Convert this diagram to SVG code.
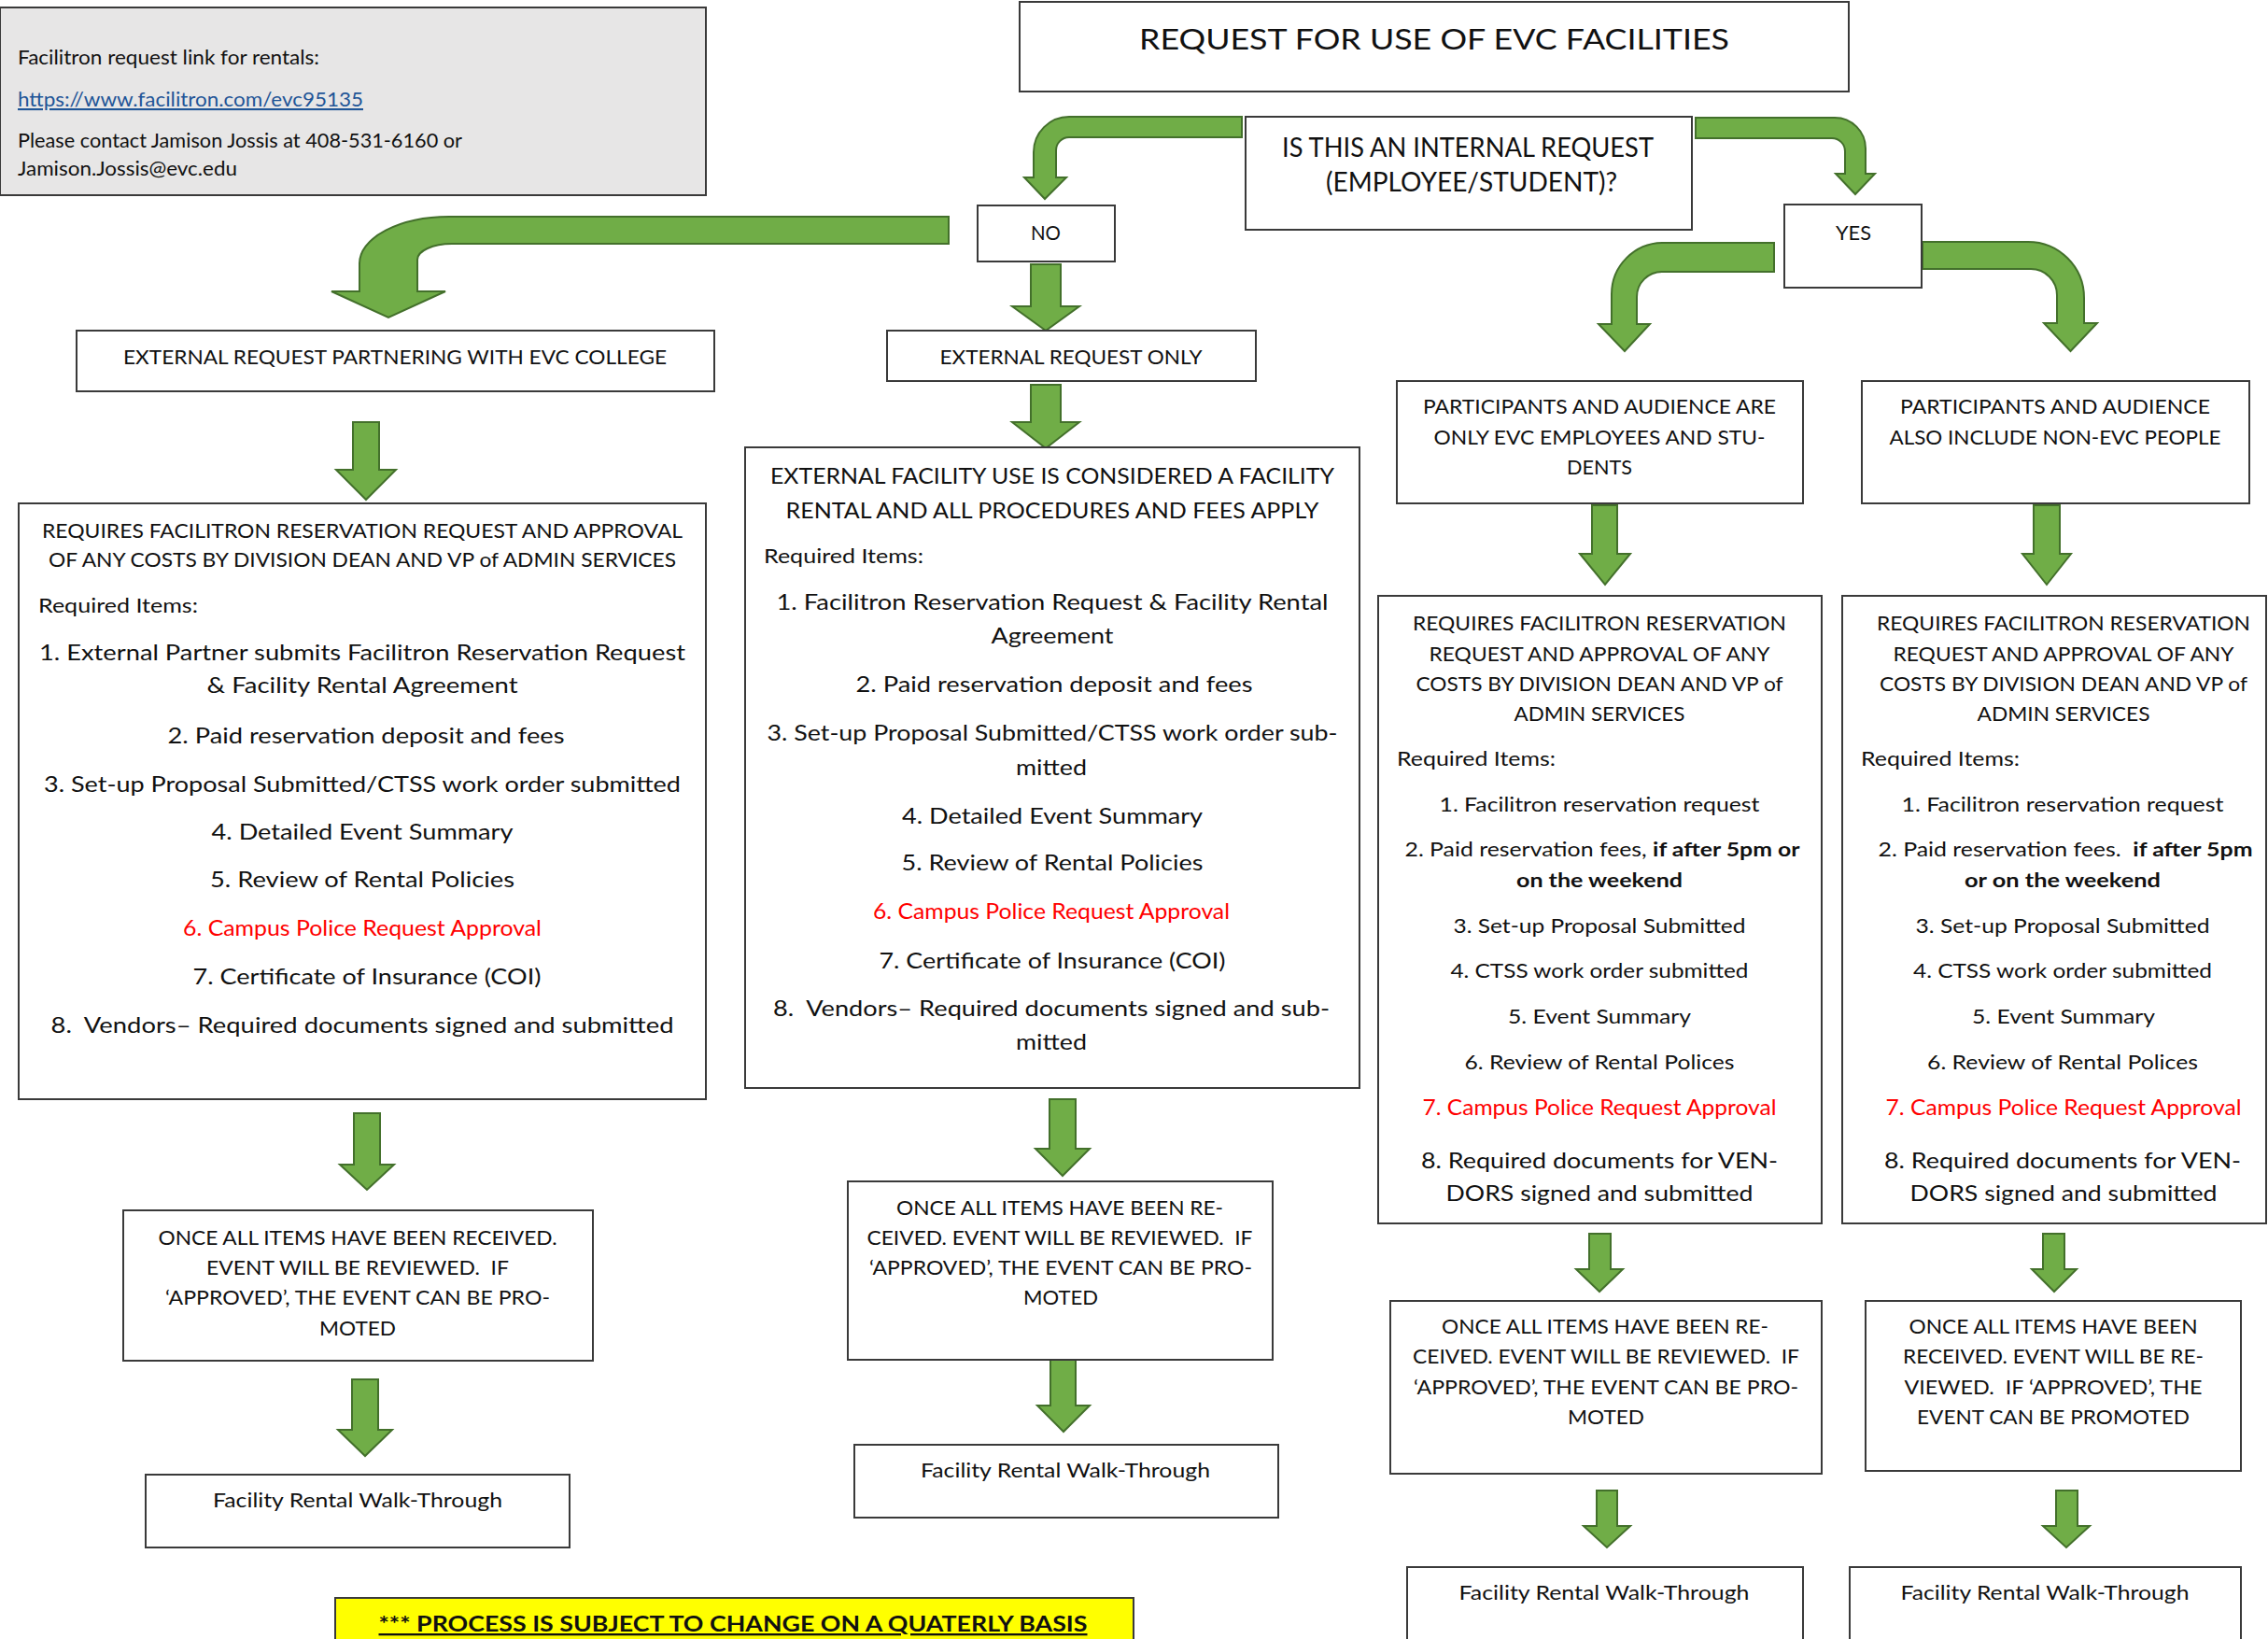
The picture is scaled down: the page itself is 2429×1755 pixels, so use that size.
<svg xmlns="http://www.w3.org/2000/svg" width="2429" height="1755" viewBox="0 0 2429 1755">
<style>
.box{fill:#fff;stroke:#3a3a3a;stroke-width:2}
.t{font-family:Lato,'Liberation Sans',sans-serif;fill:#111}
.c{text-anchor:middle}
.s20{font-size:21px}.s21{font-size:21px}.s22{font-size:22px}.s23{font-size:23px}.s24{font-size:24px}
.red{fill:#ff0000}
.b{font-weight:bold}
.arr{fill:#70ad47;stroke:#43702b;stroke-width:2;stroke-linejoin:miter}
</style>
<rect width="2429" height="1755" fill="#fff"/>

<g id="connectors">
<path class="arr" d="M1330 125 L1145 125 A38 38 0 0 0 1107 163 L1107 190 L1097 190 L1119 213 L1142 190 L1131 190 L1131 161 A14 14 0 0 1 1145 147 L1330 147 Z"/>
<path class="arr" d="M1816 126 L1965 126 A33 33 0 0 1 1998 159 L1998 186 L2008 186 L1987 208 L1966 186 L1976 186 L1976 162 A14 14 0 0 0 1962 148 L1816 148 Z"/>
<path class="arr" d="M1900 260 L1781 260 A55 55 0 0 0 1726 315 L1726 347 L1712 347 L1740 376 L1767 347 L1753 347 L1753 318 A27 27 0 0 1 1780 291 L1900 291 Z"/>
<path class="arr" d="M2059 259 L2172 259 A60 60 0 0 1 2232 319 L2232 346 L2246 346 L2217.5 376 L2189 346 L2203 346 L2203 316 A28 28 0 0 0 2175 288 L2059 288 Z"/>
<path class="arr" d="M1016 232 L481 232 A96 50 0 0 0 385 282 L385 312 L355 312 L416 340 L477 312 L447 312 L447 278 A37 17 0 0 1 484 261 L1016 261 Z"/>
<path class="arr" d="M1104 283 L1136 283 L1136 328 L1156 328 L1120 354 L1084 328 L1104 328 Z"/>
<path class="arr" d="M1104 412 L1136 412 L1136 452 L1156 452 L1120 480 L1084 452 L1104 452 Z"/>
<path class="arr" d="M378 452 L406 452 L406 503 L424 503 L392 535 L360 503 L378 503 Z"/>
<path class="arr" d="M379 1192 L407 1192 L407 1247 L422 1247 L393 1274 L364 1247 L379 1247 Z"/>
<path class="arr" d="M377 1477 L405 1477 L405 1531 L420 1531 L391 1559 L362 1531 L377 1531 Z"/>
<path class="arr" d="M1124 1177 L1152 1177 L1152 1230 L1167 1230 L1138 1259 L1109 1230 L1124 1230 Z"/>
<path class="arr" d="M1125 1455 L1152 1455 L1152 1505 L1167 1505 L1139 1533 L1111 1505 L1125 1505 Z"/>
<path class="arr" d="M1705 541 L1732 541 L1732 593 L1746 593 L1719 626 L1692 593 L1705 593 Z"/>
<path class="arr" d="M2178 541 L2206 541 L2206 593 L2218 593 L2192 626 L2166 593 L2178 593 Z"/>
<path class="arr" d="M1702 1321 L1725 1321 L1725 1359 L1738 1359 L1713 1383 L1688 1359 L1702 1359 Z"/>
<path class="arr" d="M2188 1321 L2211 1321 L2211 1359 L2224 1359 L2200 1383 L2176 1359 L2188 1359 Z"/>
<path class="arr" d="M1710 1596 L1732 1596 L1732 1634 L1746 1634 L1721 1657 L1696 1634 L1710 1634 Z"/>
<path class="arr" d="M2202 1596 L2225 1596 L2225 1634 L2238 1634 L2213 1657 L2188 1634 L2202 1634 Z"/>
</g>

<g id="info">
<rect x="0" y="8" width="756" height="201" fill="#e7e6e6" stroke="#3a3a3a" stroke-width="2"/>
<text class="t s21" x="19" y="69" textLength="323" lengthAdjust="spacingAndGlyphs">Facilitron request link for rentals:</text>
<text class="t s21" x="19" y="114" textLength="370" lengthAdjust="spacingAndGlyphs" style="fill:#1f5597" text-decoration="underline">https://www.facilitron.com/evc95135</text>
<text class="t s21" x="19" y="158" textLength="476" lengthAdjust="spacingAndGlyphs">Please contact Jamison Jossis at 408-531-6160 or</text>
<text class="t s21" x="19" y="188" textLength="235" lengthAdjust="spacingAndGlyphs">Jamison.Jossis@evc.edu</text>
</g>

<g id="title">
<rect class="box" x="1092" y="2" width="888" height="96"/>
<text class="t c" x="1536" y="53" font-size="30" textLength="632" lengthAdjust="spacingAndGlyphs">REQUEST FOR USE OF EVC FACILITIES</text>
</g>

<g id="question">
<rect class="box" x="1334" y="125" width="478" height="121"/>
<text class="t c" x="1572" y="168" font-size="29" textLength="398" lengthAdjust="spacingAndGlyphs">IS THIS AN INTERNAL REQUEST</text>
<text class="t c" x="1576" y="205" font-size="29" textLength="312" lengthAdjust="spacingAndGlyphs">(EMPLOYEE/STUDENT)?</text>
</g>

<g id="no">
<rect class="box" x="1047" y="220" width="147" height="60"/>
<text class="t c s21" x="1120" y="257" textLength="32" lengthAdjust="spacingAndGlyphs">NO</text>
</g>

<g id="yes">
<rect class="box" x="1911" y="219" width="147" height="89"/>
<text class="t c s21" x="1985" y="257" textLength="38" lengthAdjust="spacingAndGlyphs">YES</text>
</g>

<g id="partner">
<rect class="box" x="82" y="354" width="683" height="65"/>
<text class="t c s22" x="423" y="390" textLength="582" lengthAdjust="spacingAndGlyphs">EXTERNAL REQUEST PARTNERING WITH EVC COLLEGE</text>
</g>

<g id="external-only">
<rect class="box" x="950" y="354" width="395" height="54"/>
<text class="t c s22" x="1147" y="390" textLength="281" lengthAdjust="spacingAndGlyphs">EXTERNAL REQUEST ONLY</text>
</g>

<g id="participants-evc">
<rect class="box" x="1496" y="408" width="435" height="131"/>
<text class="t c s22" x="1713" y="443" textLength="378" lengthAdjust="spacingAndGlyphs">PARTICIPANTS AND AUDIENCE ARE</text>
<text class="t c s22" x="1713" y="476" textLength="355" lengthAdjust="spacingAndGlyphs">ONLY EVC EMPLOYEES AND STU-</text>
<text class="t c s22" x="1713" y="508" textLength="70" lengthAdjust="spacingAndGlyphs">DENTS</text>
</g>

<g id="participants-non-evc">
<rect class="box" x="1994" y="408" width="415" height="131"/>
<text class="t c s22" x="2201" y="443" textLength="332" lengthAdjust="spacingAndGlyphs">PARTICIPANTS AND AUDIENCE</text>
<text class="t c s22" x="2201" y="476" textLength="355" lengthAdjust="spacingAndGlyphs">ALSO INCLUDE NON-EVC PEOPLE</text>
</g>

<g id="partner-requirements">
<rect class="box" x="20" y="539" width="736" height="638"/>
<text class="t c s22" x="388" y="576" textLength="686" lengthAdjust="spacingAndGlyphs">REQUIRES FACILITRON RESERVATION REQUEST AND APPROVAL</text>
<text class="t c s22" x="388" y="607" textLength="672" lengthAdjust="spacingAndGlyphs">OF ANY COSTS BY DIVISION DEAN AND VP of ADMIN SERVICES</text>
<text class="t s22" x="41" y="656" textLength="171" lengthAdjust="spacingAndGlyphs">Required Items:</text>
<text class="t c s24" x="388" y="707" textLength="692" lengthAdjust="spacingAndGlyphs">1. External Partner submits Facilitron Reservation Request</text>
<text class="t c s24" x="388" y="742" textLength="333" lengthAdjust="spacingAndGlyphs">&amp; Facility Rental Agreement</text>
<text class="t c s24" x="392" y="796" textLength="425" lengthAdjust="spacingAndGlyphs">2. Paid reservation deposit and fees</text>
<text class="t c s24" x="388" y="848" textLength="682" lengthAdjust="spacingAndGlyphs">3. Set-up Proposal Submitted/CTSS work order submitted</text>
<text class="t c s24" x="388" y="899" textLength="323" lengthAdjust="spacingAndGlyphs">4. Detailed Event Summary</text>
<text class="t c s24" x="388" y="950" textLength="326" lengthAdjust="spacingAndGlyphs">5. Review of Rental Policies</text>
<text class="t c s24 red" x="388" y="1002" textLength="384" lengthAdjust="spacingAndGlyphs">6. Campus Police Request Approval</text>
<text class="t c s24" x="393" y="1054" textLength="373" lengthAdjust="spacingAndGlyphs">7. Certificate of Insurance (COI)</text>
<text class="t c s24" x="388" y="1106" textLength="667" lengthAdjust="spacingAndGlyphs" xml:space="preserve">8.  Vendors– Required documents signed and submitted</text>
</g>

<g id="external-requirements">
<rect class="box" x="798" y="479" width="658" height="686"/>
<text class="t c s23" x="1127" y="518" textLength="604" lengthAdjust="spacingAndGlyphs">EXTERNAL FACILITY USE IS CONSIDERED A FACILITY</text>
<text class="t c s23" x="1127" y="555" textLength="571" lengthAdjust="spacingAndGlyphs">RENTAL AND ALL PROCEDURES AND FEES APPLY</text>
<text class="t s22" x="818" y="603" textLength="171" lengthAdjust="spacingAndGlyphs">Required Items:</text>
<text class="t c s24" x="1127" y="653" textLength="591" lengthAdjust="spacingAndGlyphs">1. Facilitron Reservation Request &amp; Facility Rental</text>
<text class="t c s24" x="1127" y="689" textLength="131" lengthAdjust="spacingAndGlyphs">Agreement</text>
<text class="t c s24" x="1129" y="741" textLength="425" lengthAdjust="spacingAndGlyphs">2. Paid reservation deposit and fees</text>
<text class="t c s24" x="1127" y="793" textLength="611" lengthAdjust="spacingAndGlyphs">3. Set-up Proposal Submitted/CTSS work order sub-</text>
<text class="t c s24" x="1126" y="830" textLength="76" lengthAdjust="spacingAndGlyphs">mitted</text>
<text class="t c s24" x="1127" y="882" textLength="322" lengthAdjust="spacingAndGlyphs">4. Detailed Event Summary</text>
<text class="t c s24" x="1127" y="932" textLength="323" lengthAdjust="spacingAndGlyphs">5. Review of Rental Policies</text>
<text class="t c s24 red" x="1126" y="984" textLength="382" lengthAdjust="spacingAndGlyphs">6. Campus Police Request Approval</text>
<text class="t c s24" x="1127" y="1037" textLength="371" lengthAdjust="spacingAndGlyphs">7. Certificate of Insurance (COI)</text>
<text class="t c s24" x="1126" y="1088" textLength="596" lengthAdjust="spacingAndGlyphs" xml:space="preserve">8.  Vendors– Required documents signed and sub-</text>
<text class="t c s24" x="1126" y="1124" textLength="76" lengthAdjust="spacingAndGlyphs">mitted</text>
</g>

<g id="internal-requirements-evc">
<rect class="box" x="1476" y="638" width="475" height="672"/>
<text class="t c s22" x="1713" y="675" textLength="400" lengthAdjust="spacingAndGlyphs">REQUIRES FACILITRON RESERVATION</text>
<text class="t c s22" x="1713" y="708" textLength="365" lengthAdjust="spacingAndGlyphs">REQUEST AND APPROVAL OF ANY</text>
<text class="t c s22" x="1713" y="740" textLength="393" lengthAdjust="spacingAndGlyphs">COSTS BY DIVISION DEAN AND VP of</text>
<text class="t c s22" x="1713" y="772" textLength="183" lengthAdjust="spacingAndGlyphs">ADMIN SERVICES</text>
<text class="t s22" x="1496" y="820" textLength="170" lengthAdjust="spacingAndGlyphs">Required Items:</text>
<text class="t c s21" x="1713" y="869" textLength="343" lengthAdjust="spacingAndGlyphs">1. Facilitron reservation request</text>
<text class="t c s21" x="1716" y="917" textLength="423" lengthAdjust="spacingAndGlyphs" xml:space="preserve">2. Paid reservation fees, <tspan class="b">if after 5pm or</tspan></text>
<text class="t c s21 b" x="1713" y="950" textLength="178" lengthAdjust="spacingAndGlyphs">on the weekend</text>
<text class="t c s21" x="1713" y="999" textLength="313" lengthAdjust="spacingAndGlyphs">3. Set-up Proposal Submitted</text>
<text class="t c s21" x="1713" y="1047" textLength="319" lengthAdjust="spacingAndGlyphs">4. CTSS work order submitted</text>
<text class="t c s21" x="1713" y="1096" textLength="196" lengthAdjust="spacingAndGlyphs">5. Event Summary</text>
<text class="t c s21" x="1713" y="1145" textLength="289" lengthAdjust="spacingAndGlyphs">6. Review of Rental Polices</text>
<text class="t c s23 red" x="1713" y="1194" textLength="379" lengthAdjust="spacingAndGlyphs">7. Campus Police Request Approval</text>
<text class="t c s24" x="1713" y="1251" textLength="382" lengthAdjust="spacingAndGlyphs">8. Required documents for VEN-</text>
<text class="t c s24" x="1713" y="1286" textLength="329" lengthAdjust="spacingAndGlyphs">DORS signed and submitted</text>
</g>

<g id="internal-requirements-non-evc">
<rect class="box" x="1973" y="638" width="454" height="672"/>
<text class="t c s22" x="2210" y="675" textLength="400" lengthAdjust="spacingAndGlyphs">REQUIRES FACILITRON RESERVATION</text>
<text class="t c s22" x="2210" y="708" textLength="365" lengthAdjust="spacingAndGlyphs">REQUEST AND APPROVAL OF ANY</text>
<text class="t c s22" x="2210" y="740" textLength="394" lengthAdjust="spacingAndGlyphs">COSTS BY DIVISION DEAN AND VP of</text>
<text class="t c s22" x="2210" y="772" textLength="185" lengthAdjust="spacingAndGlyphs">ADMIN SERVICES</text>
<text class="t s22" x="1993" y="820" textLength="170" lengthAdjust="spacingAndGlyphs">Required Items:</text>
<text class="t c s21" x="2209" y="869" textLength="345" lengthAdjust="spacingAndGlyphs">1. Facilitron reservation request</text>
<text class="t c s21" x="2212" y="917" textLength="401" lengthAdjust="spacingAndGlyphs" xml:space="preserve">2. Paid reservation fees.  <tspan class="b">if after 5pm</tspan></text>
<text class="t c s21 b" x="2209" y="950" textLength="210" lengthAdjust="spacingAndGlyphs">or on the weekend</text>
<text class="t c s21" x="2209" y="999" textLength="315" lengthAdjust="spacingAndGlyphs">3. Set-up Proposal Submitted</text>
<text class="t c s21" x="2209" y="1047" textLength="320" lengthAdjust="spacingAndGlyphs">4. CTSS work order submitted</text>
<text class="t c s21" x="2210" y="1096" textLength="196" lengthAdjust="spacingAndGlyphs">5. Event Summary</text>
<text class="t c s21" x="2209" y="1145" textLength="290" lengthAdjust="spacingAndGlyphs">6. Review of Rental Polices</text>
<text class="t c s23 red" x="2210" y="1194" textLength="381" lengthAdjust="spacingAndGlyphs">7. Campus Police Request Approval</text>
<text class="t c s24" x="2209" y="1251" textLength="382" lengthAdjust="spacingAndGlyphs">8. Required documents for VEN-</text>
<text class="t c s24" x="2210" y="1286" textLength="329" lengthAdjust="spacingAndGlyphs">DORS signed and submitted</text>
</g>

<g id="review-partner">
<rect class="box" x="132" y="1296" width="503" height="161"/>
<text class="t c s22" x="383" y="1333" textLength="427" lengthAdjust="spacingAndGlyphs">ONCE ALL ITEMS HAVE BEEN RECEIVED.</text>
<text class="t c s22" x="383" y="1365" textLength="324" lengthAdjust="spacingAndGlyphs" xml:space="preserve">EVENT WILL BE REVIEWED.  IF</text>
<text class="t c s22" x="383" y="1397" textLength="412" lengthAdjust="spacingAndGlyphs">‘APPROVED’, THE EVENT CAN BE PRO-</text>
<text class="t c s22" x="383" y="1430" textLength="82" lengthAdjust="spacingAndGlyphs">MOTED</text>
</g>

<g id="review-external">
<rect class="box" x="908" y="1265" width="455" height="191"/>
<text class="t c s22" x="1135" y="1301" textLength="350" lengthAdjust="spacingAndGlyphs">ONCE ALL ITEMS HAVE BEEN RE-</text>
<text class="t c s22" x="1135" y="1333" textLength="413" lengthAdjust="spacingAndGlyphs" xml:space="preserve">CEIVED. EVENT WILL BE REVIEWED.  IF</text>
<text class="t c s22" x="1136" y="1365" textLength="410" lengthAdjust="spacingAndGlyphs">‘APPROVED’, THE EVENT CAN BE PRO-</text>
<text class="t c s22" x="1136" y="1397" textLength="80" lengthAdjust="spacingAndGlyphs">MOTED</text>
</g>

<g id="review-evc">
<rect class="box" x="1489" y="1393" width="462" height="185"/>
<text class="t c s22" x="1719" y="1428" textLength="350" lengthAdjust="spacingAndGlyphs">ONCE ALL ITEMS HAVE BEEN RE-</text>
<text class="t c s22" x="1720" y="1460" textLength="414" lengthAdjust="spacingAndGlyphs" xml:space="preserve">CEIVED. EVENT WILL BE REVIEWED.  IF</text>
<text class="t c s22" x="1720" y="1493" textLength="412" lengthAdjust="spacingAndGlyphs">‘APPROVED’, THE EVENT CAN BE PRO-</text>
<text class="t c s22" x="1720" y="1525" textLength="82" lengthAdjust="spacingAndGlyphs">MOTED</text>
</g>

<g id="review-non-evc">
<rect class="box" x="1998" y="1393" width="402" height="182"/>
<text class="t c s22" x="2199" y="1428" textLength="309" lengthAdjust="spacingAndGlyphs">ONCE ALL ITEMS HAVE BEEN</text>
<text class="t c s22" x="2199" y="1460" textLength="322" lengthAdjust="spacingAndGlyphs">RECEIVED. EVENT WILL BE RE-</text>
<text class="t c s22" x="2199" y="1493" textLength="319" lengthAdjust="spacingAndGlyphs" xml:space="preserve">VIEWED.  IF ‘APPROVED’, THE</text>
<text class="t c s22" x="2199" y="1525" textLength="292" lengthAdjust="spacingAndGlyphs">EVENT CAN BE PROMOTED</text>
</g>

<g id="walk-partner">
<rect class="box" x="156" y="1579" width="454" height="78"/>
<text class="t c s22" x="383" y="1614" textLength="310" lengthAdjust="spacingAndGlyphs">Facility Rental Walk-Through</text>
</g>
<g id="walk-external">
<rect class="box" x="915" y="1547" width="454" height="78"/>
<text class="t c s22" x="1141" y="1582" textLength="310" lengthAdjust="spacingAndGlyphs">Facility Rental Walk-Through</text>
</g>
<g id="walk-evc">
<rect class="box" x="1507" y="1678" width="424" height="100"/>
<text class="t c s22" x="1718" y="1713" textLength="311" lengthAdjust="spacingAndGlyphs">Facility Rental Walk-Through</text>
</g>
<g id="walk-non-evc">
<rect class="box" x="1981" y="1678" width="419" height="100"/>
<text class="t c s22" x="2190" y="1713" textLength="309" lengthAdjust="spacingAndGlyphs">Facility Rental Walk-Through</text>
</g>

<g id="notice">
<rect x="359" y="1711" width="855" height="70" fill="#ffff00" stroke="#3a3a3a" stroke-width="2"/>
<text class="t c b" x="785" y="1747" font-size="23" textLength="759" lengthAdjust="spacingAndGlyphs" text-decoration="underline">*** PROCESS IS SUBJECT TO CHANGE ON A QUATERLY BASIS</text>
</g>
</svg>
